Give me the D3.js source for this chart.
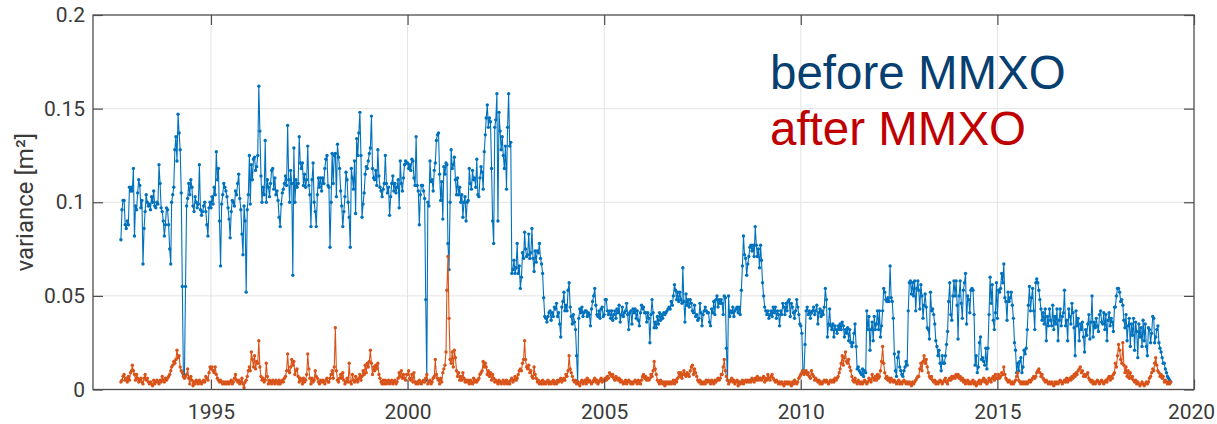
<!DOCTYPE html>
<html><head><meta charset="utf-8">
<script src="https://cdn.jsdelivr.net/npm/d3@7"></script>
<style>html,body{margin:0;padding:0;background:#fff;}svg{display:block;}</style>
</head><body>
<svg id="chart" width="1217" height="424"></svg>
<script>
// ---- data (variance in units of 0.001 m², one value per ~10-day cycle) ----
const unit = 0.001;
const firstCycle = 1992.71;
const cycleYears = 9.9156 / 365.25;
const years = [1992,1993,1994,1995,1996,1997,1998,1999,2000,2001,2002,2003,2004,2005,2006,2007,2008,2009,2010,2011,2012,2013,2014,2015,2016,2017,2018,2019];
const xTicks = [1995, 2000, 2005, 2010, 2015, 2020];
const yTicks = [0, 0.05, 0.1, 0.15, 0.2];
const seriesNames = ["before MMXO", "after MMXO"];

const before1992 = [80,96,101,101,88,86,90,88,108,106,108];
const before1993 = [106,118,82,98,96,105,112,109,97,101,67,86,95,104,100,98,99,96,103,100,106,98,97,100,99,120,110,97,95,90,82,88,97,96,88,75,67];
const before1994 = [100,104,108,128,135,122,147,137,128,105,55,8,7,55,98,102,110,104,112,108,98,95,103,100,97,99,120,96,93,95,98,100,95,88,82,97,100];
const before1995 = [97,103,99,108,104,127,112,118,90,66,99,104,110,108,106,103,97,91,81,95,101,100,98,106,104,110,115,102,96,83,72,98,90,52,96,104,125];
const before1996 = [99,120,112,123,124,117,119,125,162,138,114,100,108,104,133,100,112,108,103,110,117,118,107,113,104,106,101,92,87,99,105,107,110,114,109,141,112];
const before1997 = [100,117,110,61,129,100,112,108,110,135,121,118,121,109,115,108,112,130,109,104,87,112,121,100,95,87,104,113,108,113,106,113,110,118,123,125,109];
const before1998 = [108,76,100,126,110,125,126,103,131,124,118,106,98,87,95,103,116,112,100,92,76,118,113,107,122,94,134,125,137,148,125,92,99,105,115,119,118];
const before1999 = [122,126,129,146,118,113,112,117,109,128,114,108,106,103,107,110,125,110,105,108,93,103,110,114,106,110,105,108,112,97,122,110,106,113,120,122,121];
const before2000 = [121,118,120,117,123,122,113,109,135,109,106,88,104,109,109,106,102,48,5,100,98,122,111,112,106,117,121,133,136,137,115,101,111,91,119,115,121];
const before2001 = [120,78,64,100,128,118,120,124,112,104,113,104,108,100,104,92,100,103,90,100,101,118,110,107,117,112,113,108,123,104,103,113,119,116,107,127,136];
const before2002 = [145,152,140,145,143,118,90,78,140,144,158,90,148,138,128,135,125,118,130,107,140,158,130,132,62,64,69,62,65,78,62,66,54,60,73,70,84];
const before2003 = [75,71,72,83,70,73,86,70,63,74,68,74,73,78,70,67,62,49,39,38,36,39,41,42,37,41,39,44,43,46,39,41,35,28,44,47,52];
const before2004 = [42,45,42,53,57,44,39,35,40,36,32,18,4,38,43,41,44,39,41,42,42,39,41,40,34,43,47,50,54,45,40,39,42,38,43,44,39];
const before2005 = [40,48,48,42,40,42,38,42,37,40,42,38,43,41,45,36,40,44,39,41,42,46,40,32,41,42,35,43,41,43,38,42,37,34,41,45,43];
const before2006 = [44,41,41,36,41,38,25,40,48,41,33,36,33,39,35,41,37,40,38,41,40,41,42,43,44,43,47,45,50,56,53,48,52,47,52,48,46];
const before2007 = [65,47,36,51,45,48,44,48,46,42,41,45,39,40,37,38,46,41,34,40,42,44,42,41,41,36,34,43,41,47,40,48,50,44,48,46,48];
const before2008 = [46,40,50,49,22,5,50,39,42,41,44,39,42,43,44,41,44,40,53,66,82,72,70,61,67,71,76,77,74,77,71,87,77,71,75,65,77];
const before2009 = [69,57,50,44,42,40,42,38,40,42,39,44,41,44,38,42,40,34,42,40,46,44,40,46,42,47,48,39,46,44,41,38,42,48,44,40,35];
const before2010 = [34,30,10,9,24,42,44,40,42,38,41,42,44,40,42,45,35,41,43,39,42,40,44,54,48,28,35,43,34,32,35,28,34,32,30,34,32];
const before2011 = [35,32,36,34,28,32,30,33,26,32,25,23,25,30,35,23,11,12,10,9,8,11,7,10,9,42,32,39,21,32,36,26,39,32,35,42,32];
const before2012 = [42,28,34,42,54,52,48,47,49,47,66,49,47,38,19,10,7,17,20,12,10,8,7,10,12,15,13,42,57,58,51,57,50,58,42,54,58];
const before2013 = [53,43,56,50,38,45,51,44,33,32,27,52,42,43,40,35,26,23,18,21,14,10,18,14,14,18,24,31,47,57,40,37,50,58,50,58,45];
const before2014 = [27,50,58,46,38,53,57,62,35,50,48,41,53,54,53,40,13,18,9,12,25,28,16,17,15,13,22,11,22,40,60,46,56,37,32,41,57];
const before2015 = [38,53,52,54,62,57,67,49,47,37,52,47,49,52,45,38,25,21,9,14,10,15,17,9,12,21,19,22,32,45,55,42,49,54,42,32,57];
const before2016 = [59,57,53,48,43,37,41,35,43,26,39,34,43,37,34,45,32,39,35,43,26,37,43,34,39,41,53,34,37,26,43,39,35,46,41,33,18];
const before2017 = [42,34,38,26,35,32,36,28,20,32,29,35,40,27,36,50,28,36,33,38,34,31,40,42,36,35,41,32,40,26,37,41,34,38,36,31,44];
const before2018 = [44,50,54,54,52,47,48,45,37,33,40,26,34,38,23,35,29,38,21,36,31,17,35,28,33,23,37,26,35,23,18,33,32,25,30,39,38];
const before2019 = [25,28,32,34,25,22,20,17,14,14,11,9,7,6,5,4];

const after1992 = [4,5,7,8,5,6,4,7,5,9,10];
const after1993 = [13,10,8,5,8,6,4,5,6,4,3,6,8,5,6,4,3,4,3,2,5,3,4,5,4,3,5,4,7,5,4,6,5,6,7,8,10];
const after1994 = [12,13,15,14,16,21,17,18,12,10,9,7,6,7,8,11,6,3,7,5,2,4,3,5,4,3,5,4,3,4,5,4,7,6,5,9,12];
const after1995 = [11,12,10,9,12,8,6,5,4,5,4,3,4,3,4,3,4,3,4,5,3,4,6,8,5,4,5,3,4,6,3,1,4,5,7,10,12];
const after1996 = [10,20,16,12,18,11,15,14,26,12,7,5,6,4,5,14,7,3,5,4,3,5,4,3,5,4,3,5,3,4,5,4,6,7,10,19,10];
const after1997 = [9,12,16,13,15,8,10,11,7,4,6,5,3,6,4,5,8,19,11,6,3,6,4,5,10,7,6,4,3,5,4,5,4,3,5,6,4];
const after1998 = [4,6,8,10,6,12,33,10,5,4,6,8,6,9,5,3,4,6,4,14,4,3,8,5,4,7,5,4,6,8,5,7,10,8,13,9,14];
const after1999 = [12,15,21,14,8,12,10,13,11,14,8,6,4,3,5,3,5,3,4,5,3,4,5,3,4,5,3,4,6,9,7,10,6,8,6,5,8];
const after2000 = [8,10,6,5,8,4,9,4,3,4,3,5,4,3,4,5,4,6,8,3,4,5,3,4,6,7,16,8,6,5,3,6,4,9,11,13,20];
const after2001 = [53,71,38,16,14,20,12,21,17,10,7,9,5,7,5,9,6,4,5,4,5,3,5,4,3,6,4,5,4,5,6,8,9,10,15,12,14];
const after2002 = [12,8,10,7,9,5,8,6,4,5,4,3,5,4,3,4,5,3,4,5,3,4,3,5,6,4,5,7,5,6,8,10,11,10,14,16,26];
const after2003 = [16,12,11,13,9,10,7,6,12,8,6,4,5,3,4,3,5,3,4,3,4,5,3,4,3,4,5,3,4,3,5,4,5,6,4,5,6];
const after2004 = [5,8,7,10,18,11,9,7,5,4,5,3,4,3,2,4,5,3,4,5,3,6,4,5,4,3,4,5,6,4,5,3,4,5,6,4,5];
const after2005 = [5,6,5,7,6,9,8,7,8,6,5,7,6,5,6,4,5,4,3,4,5,3,4,5,4,3,4,3,4,5,4,3,5,4,3,5,7];
const after2006 = [8,6,7,5,6,5,6,8,7,10,15,11,8,5,4,3,5,4,3,4,2,4,3,4,3,4,3,4,5,3,5,4,6,9,7,9,6];
const after2007 = [8,10,8,7,9,8,7,10,12,13,8,11,9,7,5,4,5,3,4,3,4,3,5,4,5,4,3,5,4,3,5,4,5,6,5,6,8];
const after2008 = [8,12,16,10,7,5,3,4,5,6,4,5,3,4,5,2,4,3,4,5,3,4,5,4,5,4,5,4,6,5,4,6,5,7,5,6,6];
const after2009 = [5,6,7,4,6,5,8,6,5,7,8,6,5,4,5,4,3,4,3,4,3,2,4,3,4,3,4,3,2,4,3,5,4,3,4,6,7];
const after2010 = [8,9,10,8,9,10,8,9,7,6,10,8,7,5,6,5,4,5,3,4,3,4,5,4,5,4,3,4,5,4,5,4,6,5,6,7,9];
const after2011 = [11,14,18,13,17,20,15,14,16,12,10,7,5,4,6,4,3,5,4,3,4,3,4,5,4,3,4,6,5,4,8,6,5,7,5,8,6];
const after2012 = [7,10,15,23,14,9,6,7,5,6,4,6,5,4,5,4,3,4,5,3,4,3,4,5,4,3,4,3,4,3,2,4,3,4,5,6,7];
const after2013 = [7,11,14,10,15,18,14,16,12,9,7,6,7,5,4,5,3,4,3,4,5,4,3,4,5,6,4,3,5,6,5,7,6,7,6,8,7];
const after2014 = [8,6,7,5,6,4,5,3,4,5,3,4,3,4,5,3,4,2,3,4,5,3,4,5,6,4,5,3,4,6,5,4,6,7,5,8,6];
const after2015 = [6,8,6,7,9,8,12,8,6,5,4,5,4,3,4,3,4,5,7,9,5,4,3,4,3,4,3,4,3,4,5,4,5,6,7,6,7];
const after2016 = [9,10,11,9,7,8,6,5,4,5,4,3,4,3,4,3,2,4,3,4,3,4,5,4,3,4,5,4,6,4,5,6,5,7,6,8,7];
const after2017 = [9,8,10,11,12,9,10,7,8,7,8,9,6,5,4,5,3,4,3,4,5,4,3,4,5,4,3,4,5,4,6,7,5,7,6,8,9];
const after2018 = [14,12,18,24,21,16,14,25,13,9,12,7,10,6,9,6,7,5,4,5,3,4,3,2,3,4,3,2,3,4,3,4,6,7,9,11,10];
const after2019 = [14,17,13,10,9,7,8,6,7,4,5,4,3,4,3,4];

const beforeYears = [before1992,before1993,before1994,before1995,before1996,before1997,before1998,before1999,before2000,before2001,before2002,before2003,before2004,before2005,before2006,before2007,before2008,before2009,before2010,before2011,before2012,before2013,before2014,before2015,before2016,before2017,before2018,before2019];
const afterYears = [after1992,after1993,after1994,after1995,after1996,after1997,after1998,after1999,after2000,after2001,after2002,after2003,after2004,after2005,after2006,after2007,after2008,after2009,after2010,after2011,after2012,after2013,after2014,after2015,after2016,after2017,after2018,after2019];

// ---- build time series ----
function toPoints(perYear) {
  const pts = [];
  perYear.forEach((vals, k) => {
    const start = k === 0 ? firstCycle : years[k];
    vals.forEach((v, i) => pts.push({ t: start + i * cycleYears, v: v * unit }));
  });
  return pts;
}
const beforeData = toPoints(beforeYears);
const afterData = toPoints(afterYears);

// ---- layout ----
const svg = d3.select("#chart");
const L = 93, R = 1194, T = 15, B = 389.5;
const x = d3.scaleLinear().domain([1992, 2020]).range([L, R]);
const y = d3.scaleLinear().domain([0, 0.2]).range([B, T]);

const axisColor = "#4d4d4d";
const labelColor = "#3a3a3a";
const gridColor = "#e3e3e3";
const blue = "#0072BD", orange = "#D95319";

// grid
const grid = svg.append("g");
grid.selectAll("line.gx").data(xTicks.filter(d => d < 2020)).join("line")
  .attr("x1", d => x(d)).attr("x2", d => x(d)).attr("y1", T).attr("y2", B)
  .attr("stroke", gridColor).attr("stroke-width", 1);
grid.selectAll("line.gy").data(yTicks.filter(d => d > 0 && d < 0.2)).join("line")
  .attr("x1", L).attr("x2", R).attr("y1", d => y(d)).attr("y2", d => y(d))
  .attr("stroke", gridColor).attr("stroke-width", 1);

// series
const line = d3.line().x(d => x(d.t)).y(d => y(d.v));
function drawSeries(data, color) {
  const g = svg.append("g");
  g.append("path").datum(data).attr("d", line).attr("fill", "none")
    .attr("stroke", color).attr("stroke-width", 1.1).attr("stroke-linejoin", "round");
  g.selectAll("circle").data(data).join("circle")
    .attr("cx", d => x(d.t)).attr("cy", d => y(d.v)).attr("r", 1.7).attr("fill", color);
}
drawSeries(beforeData, blue);
drawSeries(afterData, orange);

// axes (MATLAB-like box with inward ticks)
const tickLen = 10;
const fontFam = "Roboto, 'Noto Sans', sans-serif";
const fmtY = d => d === 0 ? "0" : String(+d.toFixed(2));

const axB = d3.axisBottom(x).tickValues(xTicks).tickSizeInner(-tickLen).tickSizeOuter(0).tickPadding(15).tickFormat(d3.format("d"));
const axT = d3.axisTop(x).tickValues(xTicks).tickSizeInner(-tickLen).tickSizeOuter(0).tickFormat("");
const axLft = d3.axisLeft(y).tickValues(yTicks).tickSizeInner(-tickLen).tickSizeOuter(0).tickPadding(8).tickFormat(fmtY);
const axRgt = d3.axisRight(y).tickValues(yTicks).tickSizeInner(-tickLen).tickSizeOuter(0).tickFormat("");

function styleAxis(g) {
  g.selectAll(".domain").remove();
  g.selectAll(".tick line").attr("stroke", axisColor).attr("stroke-width", 1.2);
  g.selectAll(".tick text").attr("fill", labelColor).style("font-family", fontFam).style("font-size", "21px");
}
const bottomAxis = svg.append("g").attr("transform", `translate(0,${B})`).call(axB).call(styleAxis);
// keep the last label (at the right edge) inside the page
bottomAxis.selectAll(".tick text").filter(d => d === 2020).attr("x", -3);
svg.append("g").attr("transform", `translate(0,${T})`).call(axT).call(styleAxis);
svg.append("g").attr("transform", `translate(${L},0)`).call(axLft).call(styleAxis);
svg.append("g").attr("transform", `translate(${R},0)`).call(axRgt).call(styleAxis);

svg.append("rect").attr("x", L).attr("y", T).attr("width", R - L).attr("height", B - T)
  .attr("fill", "none").attr("stroke", axisColor).attr("stroke-width", 1.3);

// y label
svg.append("text").attr("transform", `translate(33,${y(0.1)}) rotate(-90)`)
  .attr("text-anchor", "middle").attr("fill", labelColor)
  .style("font-family", fontFam).style("font-size", "24px").text("variance [m²]");

// in-plot labels
const legendColors = ["#063f70", "#c00000"];
const legendBaselines = [89, 145];
seriesNames.forEach((name, i) => {
  svg.append("text").attr("x", 770).attr("y", legendBaselines[i])
    .attr("fill", legendColors[i])
    .style("font-family", "'Liberation Sans', Arial, sans-serif").style("font-size", "47.5px")
    .text(name);
});
</script>
</body></html>
